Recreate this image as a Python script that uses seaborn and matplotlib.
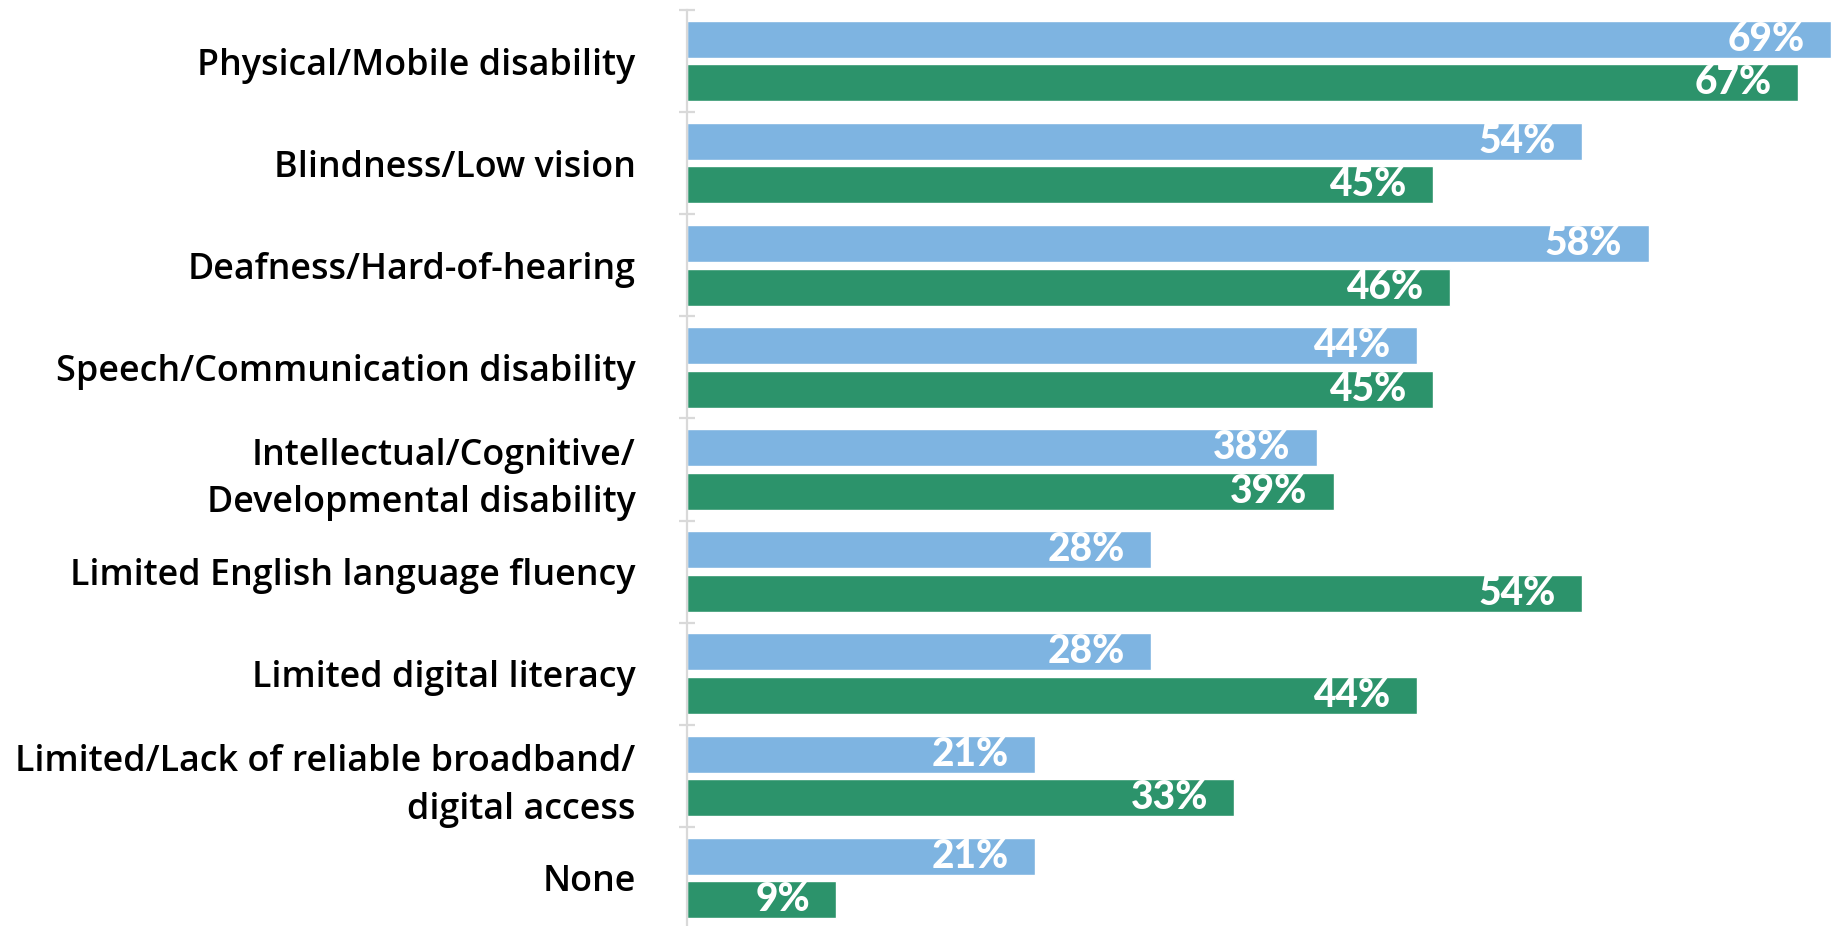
import matplotlib
matplotlib.use("Agg")
import matplotlib.pyplot as plt
import seaborn as sns
import pandas as pd
import numpy as np

categories = [
    "Physical/Mobile disability",
    "Blindness/Low vision",
    "Deafness/Hard-of-hearing",
    "Speech/Communication disability",
    "Intellectual/Cognitive/\nDevelopmental disability",
    "Limited English language fluency",
    "Limited digital literacy",
    "Limited/Lack of reliable broadband/\ndigital access",
    "None",
]
series_names = ["Group 1", "Group 2"]
values_group1 = [69, 54, 58, 44, 38, 28, 28, 21, 21]
values_group2 = [67, 45, 46, 45, 39, 54, 44, 33, 9]
colors = ["#7EB4E1", "#2C936B"]

df = pd.DataFrame({
    "category": categories * 2,
    "group": [series_names[0]] * len(categories) + [series_names[1]] * len(categories),
    "value": values_group1 + values_group2,
})

sns.set_theme(style="white")
plt.rcParams["font.family"] = ["Open Sans", "DejaVu Sans"]

W, H = 1840, 926
fig = plt.figure(figsize=(W / 100, H / 100), dpi=100)
ax_left = 687 / W
ax_top = 10
ax_bottom = 929
ax = fig.add_axes([ax_left, (H - ax_bottom) / H, 1 - ax_left, (ax_bottom - ax_top) / H])

sns.barplot(
    data=df, y="category", x="value", hue="group", order=categories,
    hue_order=series_names, palette=colors, orient="h", width=0.853,
    gap=0.149, legend=False, saturation=1, ax=ax,
)

ax.set_xlim(0, (W - 687) / 16.58)
ax.set_ylim(len(categories) - 0.5, -0.5)
ax.set_xlabel("")
ax.set_ylabel("")
ax.set_xticks([])

for side in ["top", "right", "bottom"]:
    ax.spines[side].set_visible(False)
ax.spines["left"].set_color("#D9D9D9")
ax.spines["left"].set_linewidth(1.6)

# Category labels at centres, boundary ticks between categories
ax.set_yticks(range(len(categories)))
ax.set_yticklabels(categories, fontsize=25.8, fontweight="semibold", color="black",
                   linespacing=1.42)
ax.tick_params(axis="y", which="major", left=False, length=0, pad=37)
ax.set_yticks(np.arange(-0.5, len(categories), 1.0), minor=True)
ax.tick_params(axis="y", which="minor", left=True, length=12, width=1.6,
               direction="inout", color="#D9D9D9")

# Value labels inside the bar ends
for container, vals in zip(ax.containers, [values_group1, values_group2]):
    for bar, v in zip(container, vals):
        ax.annotate(f"{v}%", xy=(bar.get_width(), bar.get_y() + bar.get_height() / 2),
                    xytext=(-19, 0), textcoords="offset points", ha="right",
                    va="center", color="white", fontsize=28, fontweight="black",
                    family=["Lato", "DejaVu Sans"])

fig.savefig("out.png", dpi=100)
